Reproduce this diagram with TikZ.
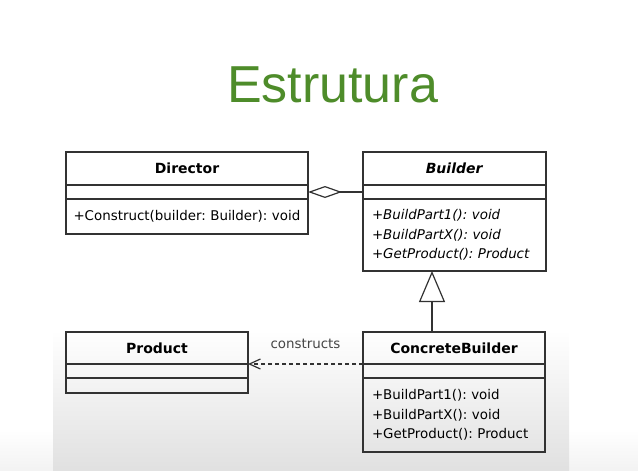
\documentclass[tikz,border=0pt]{standalone}
\usepackage{fontspec}
\setmainfont{DejaVu Sans}
\newfontfamily\titlefont{Liberation Sans}
\usepackage{tikz}
\usetikzlibrary{arrows.meta,shapes,calc}
\frenchspacing
\newcommand{\umlline}{1.2pt}
\newcommand{\mpad}{9pt}
\definecolor{titlegreen}{RGB}{78,140,42}
\definecolor{umlgray}{RGB}{50,50,50}
\definecolor{lblgray}{RGB}{70,70,70}
\tikzset{
  umlfont/.style={font=\fontsize{13.4}{19.5}\selectfont},
  head/.style={draw=umlgray, line width=\umlline, anchor=north west, inner sep=0pt, outer sep=0pt, minimum height=33pt, font=\fontsize{14}{17}\selectfont},
  comp/.style={draw=umlgray, line width=\umlline, anchor=north west, inner sep=0pt, outer sep=0pt, minimum height=14pt},
  meth/.style={draw=umlgray, line width=\umlline, anchor=north west, inner xsep=\mpad, inner ysep=0pt, outer sep=0pt, align=left, umlfont},
  agg/.style={draw=umlgray, line width=\umlline, -{Diamond[open, length=34pt, width=12pt]}},
  gen/.style={draw=umlgray, line width=\umlline, -{Triangle[open, length=31pt, width=26pt]}},
  dep/.style={draw=umlgray, line width=\umlline, dash pattern=on 4pt off 3pt, -{Straight Barb[length=11pt, width=10pt]}}
}

\begin{document}
\begin{tikzpicture}[x=1pt, y=-1pt]
        \useasboundingbox (0,0) rectangle (638,471);
        % slide background
        \shade[top color=white, bottom color=black!5] (0,430) rectangle (638,471);
        \shade[top color=white, bottom color=black!12] (53,330) rectangle (569,471);
        \node[font=\titlefont\fontsize{52}{60}\selectfont, text=titlegreen, anchor=base] (title) at (332.5,102) {Estrutura};
        \begin{scope}
        %\draw[help lines] (0,0) grid[step=10pt] (638,471);
            % Director
            \node[head, minimum width=242pt] (dirh) at (66,152) {\textbf{Director}};
            \node[comp, minimum width=242pt] (dira) at (dirh.south west) {};
            \node[meth, inner xsep=7.5pt, text width=227pt, minimum height=35pt] (dirm) at (dira.south west) {+Construct(builder: Builder): void};

            % Builder
            \node[head, minimum width=183pt] (bldh) at (363,152) {\textbf{\textit{Builder}}};
            \node[comp, minimum width=183pt] (blda) at (bldh.south west) {};
            \node[meth, text width=165pt, minimum height=72pt] (bldm) at (blda.south west) {\textit{+BuildPart1(): void}\\ \textit{+BuildPartX(): void}\\ \textit{+GetProduct(): Product}};

            % Product
            \node[head, minimum width=182pt, minimum height=32pt] (prodh) at (66,332) {\textbf{Product}};
            \node[comp, minimum width=182pt] (proda) at (prodh.south west) {};
            \node[comp, minimum width=182pt, minimum height=15pt] (prodm) at (proda.south west) {};

            % ConcreteBuilder
            \node[head, minimum width=182pt, minimum height=32pt] (cbh) at (363,332) {\textbf{ConcreteBuilder}};
            \node[comp, minimum width=182pt] (cba) at (cbh.south west) {};
            \node[meth, text width=164pt, minimum height=74pt] (cbm) at (cba.south west) {+BuildPart1(): void\\ +BuildPartX(): void\\ +GetProduct(): Product};

            \coordinate (genfoot) at (432,332);

            \draw[agg] (blda.west) -- (dira.east);
            \draw[gen] (genfoot) -- (genfoot |- bldm.south);
            \draw[dep] (cbh.south west) -- node[umlfont, text=lblgray, anchor=base, yshift=16pt] (lbl) {constructs} (prodh.south east);
        \end{scope}
    \end{tikzpicture}
\end{document}
